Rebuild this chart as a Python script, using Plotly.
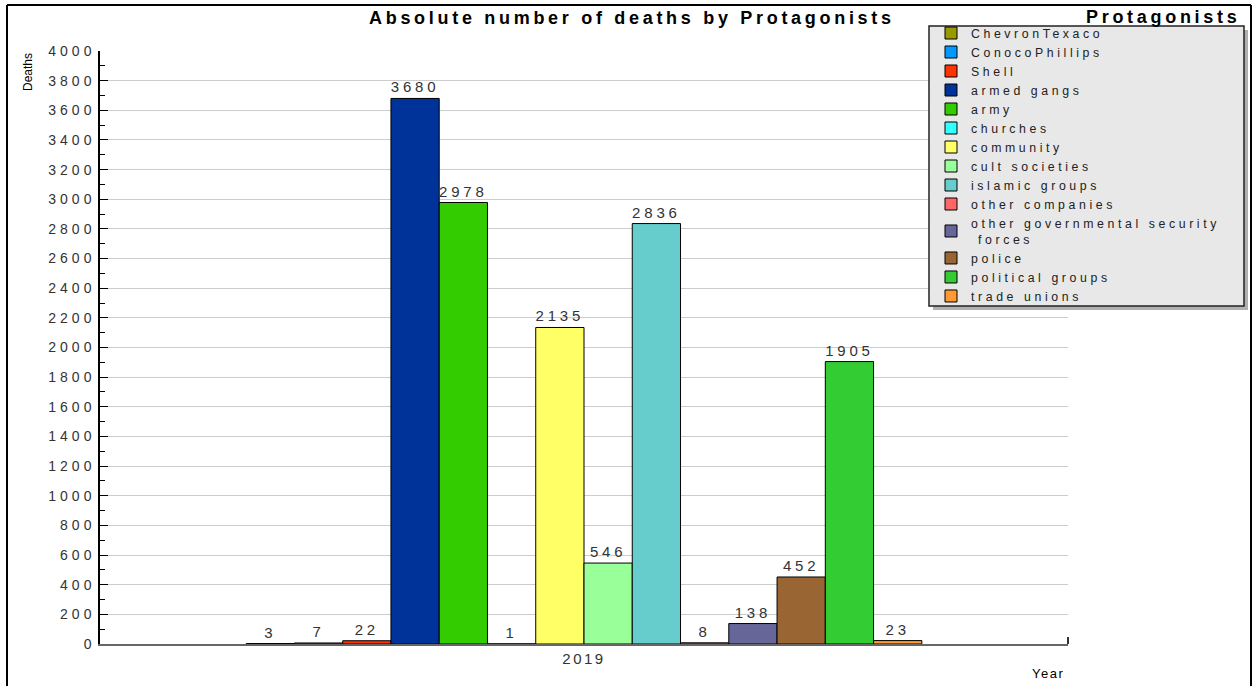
import plotly.graph_objects as go

# ---------------- data ----------------
years = ["2019"]
protagonists = ["ChevronTexaco", "ConocoPhillips", "Shell", "armed gangs", "army",
                "churches", "community", "cult societies", "islamic groups",
                "other companies", "other governmental security<br> forces",
                "police", "political groups", "trade unions"]
deaths = [3, 7, 22, 3680, 2978, 1, 2135, 546, 2836, 8, 138, 452, 1905, 23]
colors = ["#999900", "#0099ff", "#ff3300", "#003399", "#33cc00", "#33ffff", "#ffff66",
          "#99ff99", "#66cccc", "#ff6666", "#666699", "#996633", "#33cc33", "#ff9933"]
y_ticks = list(range(0, 4001, 200))

# ---------------- layout helpers ----------------
W, H = 1253, 686
L, R, T, B = 100, 185, 51, 42
PW, PH = W - L - R, H - T - B
FONT = "Liberation Sans, Arial, sans-serif"


def px_x(p):
    return (p - L) / PW


def px_y(p):
    return (H - B - p) / PH


def sp(text, ls):
    return f'<span style="letter-spacing:{ls}px">{text}</span>'


fig = go.Figure()
for name, val, col in zip(protagonists, deaths, colors):
    fig.add_trace(go.Bar(
        x=years, y=[val], name=sp(name, 3.6),
        marker=dict(color=col, line=dict(color="black", width=1)),
        text=[sp(str(val), 3.8)], textposition="outside", constraintext="none",
        textfont=dict(family=FONT, size=15, color="#333333"),
        cliponaxis=False,
    ))

shapes = []
# outer frame
for x0, y0, x1, y1 in [(7, 5, 7, 700), (7, 5, 1251, 5), (1251, 5, 1251, 700)]:
    shapes.append(dict(type="line", xref="paper", yref="paper",
                       x0=px_x(x0), y0=px_y(y0), x1=px_x(x1), y1=px_y(y1),
                       line=dict(color="black", width=2)))
# x-axis right end tick
shapes.append(dict(type="line", xref="paper", yref="paper", x0=1, x1=1, y0=0, y1=px_y(637),
                   line=dict(color="#333333", width=2)))
# legend shadow + box
LB = (929, 26, 1244, 306)
shapes.append(dict(type="rect", xref="paper", yref="paper",
                   x0=px_x(LB[0] + 4), x1=px_x(LB[2] + 4), y0=px_y(LB[1] + 4), y1=px_y(LB[3] + 4),
                   fillcolor="#b0b0b0", line=dict(width=0), layer="above"))
shapes.append(dict(type="rect", xref="paper", yref="paper",
                   x0=px_x(LB[0]), x1=px_x(LB[2]), y0=px_y(LB[1]), y1=px_y(LB[3]),
                   fillcolor="#e8e8e8", line=dict(color="#222222", width=1.5), layer="above"))

annotations = [
    dict(text="<b>" + sp("Absolute number of deaths by Protagonists", 3.7) + "</b>",
         x=px_x(632), y=px_y(18), xref="paper", yref="paper", showarrow=False,
         font=dict(family=FONT, size=18, color="black"), xanchor="center", yanchor="middle"),
    dict(text="<b>" + sp("Protagonists", 3.7) + "</b>",
         x=px_x(1163), y=px_y(17), xref="paper", yref="paper", showarrow=False,
         font=dict(family=FONT, size=18, color="black"), xanchor="center", yanchor="middle"),
    dict(text="Deaths", x=px_x(28), y=px_y(72), xref="paper", yref="paper", showarrow=False,
         textangle=-90, font=dict(family="Liberation Sans Narrow, " + FONT, size=12, color="black"),
         xanchor="center", yanchor="middle"),
    dict(text=sp("Year", 1.5), x=px_x(1048), y=px_y(673), xref="paper", yref="paper", showarrow=False,
         font=dict(family=FONT, size=13, color="black"), xanchor="center", yanchor="middle"),
]

fig.update_layout(
    width=W, height=H,
    margin=dict(l=L, r=R, t=T, b=B, pad=0),
    paper_bgcolor="white", plot_bgcolor="white",
    barmode="group", bargap=0.302, bargroupgap=0,
    font=dict(family=FONT, size=14, color="#333333"),
    showlegend=True,
    legend=dict(x=px_x(931), y=px_y(18.5), xanchor="left", yanchor="top",
                bgcolor="rgba(0,0,0,0)", borderwidth=0, tracegroupgap=0,
                font=dict(family=FONT, size=12.3, color="#222222"),
                traceorder="normal"),
    shapes=shapes, annotations=annotations,
    xaxis=dict(type="category", showline=True, linecolor="#666666", linewidth=2,
               ticks="", showgrid=False, tickfont=dict(family=FONT, size=15, color="#333333"),
               tickvals=years, ticktext=[sp(y, 2.5) for y in years], range=[-0.5, 0.5]),
    yaxis=dict(range=[0, 4000], tickmode="array", tickvals=y_ticks,
               ticktext=[sp(str(v), 4) for v in y_ticks],
               showline=True, linecolor="black", linewidth=1.5,
               ticks="inside", ticklen=8, tickcolor="black", tickwidth=1,
               showgrid=True, gridcolor="#cccccc", gridwidth=1, zeroline=False,
               tickfont=dict(family=FONT, size=14, color="#333333"),
               minor=dict(dtick=100, ticks="inside", ticklen=5, tickcolor="black", showgrid=False)),
)

fig.write_html("out.html", post_script="document.body.style.margin='0';",
               config={"displayModeBar": False})
